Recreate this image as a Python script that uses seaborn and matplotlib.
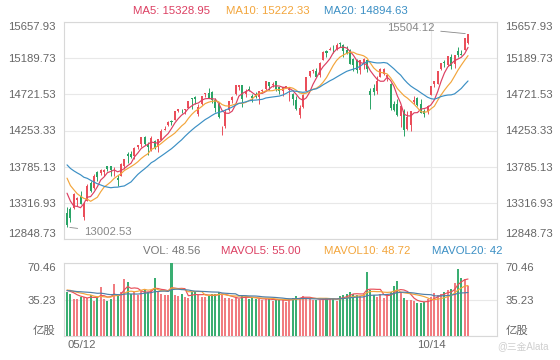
import numpy as np
import pandas as pd
import matplotlib
matplotlib.use("Agg")
import matplotlib.pyplot as plt
import seaborn as sns

# trading days 2021-05-12 .. 2021-10-29 (US holidays removed)
holidays = ["2021-05-31", "2021-07-05", "2021-09-06"]
days = pd.bdate_range("2021-05-12", "2021-10-29")
days = days[~days.isin(pd.to_datetime(holidays))]

# closes of the 19 sessions before the first candle (needed for the moving averages)
prior_close = [14038.76, 14052.34, 13914.77, 13786.27, 13950.22, 13818.41, 13962.68,
               14138.78, 14090.22, 14051.03, 14082.55, 13962.68, 13895.12, 13633.50,
               13582.42, 13632.84, 13752.24, 13401.86, 13389.43]
prior_vol = [44, 42, 45, 40, 43, 41, 44, 42, 46, 45, 44, 47, 43, 45, 44, 46, 43, 45, 44]

opens = [13185, 13235, 13250, 13360, 13400, 13130, 13345, 13570, 13505, 13710,
         13700, 13710, 13792, 13790, 13750, 13640, 13670, 13790, 13950, 13950,
         13920, 14035, 14075, 14175, 14085, 14000, 14120, 14045, 14135, 14260,
         14320, 14375, 14390, 14510, 14510, 14520, 14545, 14670, 14690, 14470,
         14600, 14720, 14740, 14750, 14650, 14600, 14270, 14310, 14520, 14650,
         14730, 14810, 14840, 14720, 14790, 14700, 14730, 14690, 14760, 14790,
         14880, 14840, 14890, 14810, 14760, 14820, 14780, 14730, 14650, 14450,
         14560, 14760, 14960, 15020, 15030, 14970, 15170, 15280, 15290, 15340,
         15310, 15380, 15360, 15290, 15300, 15180, 15170, 15040, 15120, 15160,
         14760, 14800, 14760, 14950, 14990, 14950, 14850, 14590, 14600, 14440,
         14510, 14270, 14330, 14620, 14680, 14590, 14510, 14510, 14710, 14850,
         14850, 15050, 15140, 15100, 15210, 15110, 15280, 15250, 15300, 15380]
highs = [13259, 13260, 13449, 13396, 13465, 13325, 13560, 13600, 13690, 13730,
         13750, 13760, 13800, 13800, 13775, 13680, 13830, 13885, 13970, 13990,
         14035, 14070, 14175, 14180, 14110, 14180, 14130, 14145, 14270, 14315,
         14375, 14385, 14505, 14536, 14530, 14530, 14640, 14680, 14695, 14590,
         14705, 14735, 14800, 14760, 14670, 14620, 14310, 14530, 14640, 14700,
         14840, 14845, 14845, 14790, 14830, 14720, 14750, 14770, 14790, 14900,
         14880, 14880, 14900, 14810, 14820, 14830, 14800, 14740, 14700, 14580,
         14720, 14950, 15025, 15050, 15060, 15140, 15280, 15290, 15340, 15360,
         15380, 15403, 15370, 15350, 15310, 15190, 15180, 15170, 15190, 15170,
         14800, 14850, 14960, 15060, 15060, 14990, 14870, 14640, 14660, 14570,
         14530, 14510, 14510, 14700, 14690, 14660, 14530, 14580, 14830, 14900,
         15030, 15130, 15160, 15220, 15240, 15230, 15330, 15290, 15450, 15504.12]
lows = [13002.53, 13070, 13235, 13270, 13297, 13090, 13340, 13460, 13500, 13600,
        13680, 13670, 13730, 13660, 13670, 13540, 13665, 13760, 13830, 13900,
        13890, 14010, 14040, 14060, 13940, 13990, 14020, 13970, 14130, 14260,
        14310, 14330, 14385, 14490, 14480, 14470, 14545, 14530, 14600, 14440,
        14580, 14690, 14670, 14610, 14490, 14420, 14195, 14280, 14500, 14610,
        14710, 14780, 14560, 14690, 14760, 14620, 14670, 14600, 14750, 14780,
        14780, 14820, 14760, 14720, 14700, 14800, 14640, 14580, 14520, 14420,
        14550, 14760, 14950, 14995, 14940, 14950, 15160, 15200, 15290, 15260,
        15300, 15340, 15200, 15245, 15110, 15020, 15000, 14990, 15050, 15010,
        14530, 14710, 14720, 14940, 14970, 14890, 14520, 14500, 14440, 14300,
        14180, 14260, 14250, 14600, 14570, 14480, 14430, 14470, 14710, 14820,
        14850, 15040, 15080, 15090, 15050, 15060, 15200, 15230, 15290, 15370]
closes = [13031.68, 13124.99, 13429.98, 13379.05, 13303.64, 13299.74, 13535.74, 13470.99, 13661.17, 13657.17,
          13738.00, 13736.28, 13748.74, 13736.48, 13756.33, 13614.51, 13814.49, 13881.72, 13924.98, 13911.75,
          14020.33, 14069.42, 14174.14, 14072.86, 14039.68, 14161.35, 14030.38, 14141.48, 14253.27, 14271.73,
          14369.71, 14360.39, 14500.51, 14528.33, 14503.95, 14522.38, 14639.33, 14663.64, 14665.06, 14559.79,
          14701.92, 14733.24, 14677.65, 14644.95, 14543.13, 14427.24, 14274.98, 14498.88, 14631.95, 14684.60,
          14836.99, 14840.71, 14660.58, 14762.58, 14778.26, 14672.68, 14681.07, 14761.29, 14780.53, 14895.12,
          14835.76, 14860.18, 14788.09, 14765.14, 14816.26, 14822.90, 14793.76, 14656.18, 14525.91, 14541.79,
          14714.66, 14942.65, 15019.80, 15041.86, 14945.81, 15129.50, 15265.89, 15259.24, 15309.38, 15331.18,
          15363.52, 15374.33, 15286.64, 15248.25, 15115.49, 15105.58, 15037.76, 15161.53, 15181.92, 15043.97,
          14713.90, 14746.40, 14896.85, 15052.24, 15047.70, 14969.97, 14546.68, 14512.44, 14448.58, 14566.70,
          14255.49, 14433.83, 14501.91, 14654.02, 14579.54, 14486.20, 14465.92, 14571.64, 14823.43, 14897.34,
          15021.81, 15129.09, 15121.68, 15215.70, 15090.20, 15226.71, 15235.84, 15235.71, 15448.12, 15498.39]
# volume in 亿股
volumes = [42.5, 41.0, 36.0, 35.5, 37.5, 38.0, 36.5, 40.0, 34.0, 37.5,
           47.0, 36.0, 33.5, 36.0, 50.0, 40.0, 42.0, 55.0, 52.0, 41.0,
           42.0, 40.0, 43.5, 45.0, 42.0, 44.0, 56.0, 42.0, 41.0, 40.0,
           39.5, 70.46, 40.0, 39.0, 41.0, 38.0, 36.5, 42.0, 43.0, 40.0,
           38.0, 37.5, 39.0, 41.0, 40.5, 42.0, 40.0, 37.0, 36.5, 36.0,
           37.0, 36.0, 40.0, 37.5, 36.0, 37.0, 35.5, 36.0, 35.0, 36.0,
           35.5, 34.0, 35.0, 34.5, 35.5, 33.0, 36.0, 37.0, 38.5, 37.0,
           38.5, 36.0, 37.0, 35.0, 34.5, 35.0, 35.5, 37.0, 36.0, 35.5,
           34.0, 39.0, 40.0, 41.0, 42.0, 41.0, 40.0, 39.0, 41.0, 62.0,
           44.0, 40.0, 38.0, 41.0, 37.0, 39.0, 42.0, 48.0, 53.0, 42.0,
           37.0, 35.0, 34.5, 34.0, 31.5, 32.0, 33.0, 36.0, 38.0, 41.8,
           40.0, 41.0, 42.0, 44.2, 45.0, 51.56, 64.6, 55.5, 54.78, 48.56]

price_ticks = [12848.73, 13316.93, 13785.13, 14253.33, 14721.53, 15189.73, 15657.93]
vol_ticks = [0, 35.23, 70.46]
vol_tick_labels = ["亿股", "35.23", "70.46"]
date_ticks = ["2021-05-12", "2021-10-14"]

df = pd.DataFrame({"open": opens, "high": highs, "low": lows, "close": closes,
                   "vol": volumes}, index=days)
df["x"] = np.arange(len(df))
all_close = pd.Series(prior_close + closes)
all_vol = pd.Series(prior_vol + volumes)
n0 = len(prior_close)
for n in (5, 10, 20):
    df[f"ma{n}"] = all_close.rolling(n).mean().values[n0:]
    df[f"mavol{n}"] = all_vol.rolling(n).mean().values[n0:]

sns.set_theme(style="white")
plt.rcParams["font.family"] = ["Liberation Sans", "Noto Sans CJK SC", "DejaVu Sans"]

UP, DOWN = "#ea4e5a", "#2aa466"
VUP, VDOWN = "#f17c80", "#3aae72"
C5, C10, C20 = "#dc3f62", "#f3a53b", "#3b8fc4"
GRID = "#e8e8e8"
TXT = "#666666"
FS = 8.2

fig = plt.figure(figsize=(5.6, 3.6), dpi=100)
ax = fig.add_axes([64 / 560, 1 - 239 / 360, 433 / 560, 217 / 360])
axv = fig.add_axes([64 / 560, 1 - 336 / 360, 433 / 560, 73 / 360])

up = df["close"] >= df["open"]
col = np.where(up, UP, DOWN)
vcol = np.where(up, VUP, VDOWN)

# candles
ax.vlines(df["x"], df["low"], df["high"], colors=col, lw=0.7, zorder=3)
body = (df["close"] - df["open"]).abs().clip(lower=8)
ax.bar(df["x"], body, bottom=df[["open", "close"]].min(axis=1), width=0.6,
       color=col, linewidth=0, zorder=4)
for n, c in ((5, C5), (10, C10), (20, C20)):
    sns.lineplot(x=df["x"].values, y=df[f"ma{n}"].values, ax=ax, color=c, lw=0.85, zorder=5)

# volume
axv.bar(df["x"], df["vol"], width=0.6, color=vcol, linewidth=0, zorder=3)
for n, c in ((5, "#e8505a"), (10, "#f3a53b"), (20, "#4f7fa8")):
    sns.lineplot(x=df["x"].values, y=df[f"mavol{n}"].values, ax=axv, color=c, lw=0.85, zorder=5)

xt = [df.index.get_loc(pd.Timestamp(d)) for d in date_ticks]
for a in (ax, axv):
    a.set_xlim(-0.9, 127.6)
    for s in a.spines.values():
        s.set_color("#d8d8d8")
        s.set_linewidth(0.8)
    a.axvline(xt[1], color=GRID, lw=0.8, zorder=0)
    a.set_xlabel("")
    a.set_ylabel("")

ax.set_ylim(price_ticks[0], price_ticks[-1])
ax.set_yticks(price_ticks)
ax.set_yticklabels([f"{v:.2f}" for v in price_ticks])
ax.set_xticks([])
ax.grid(axis="y", color=GRID, lw=0.8)
ax.tick_params(axis="y", length=0, labelsize=FS, labelcolor=TXT, pad=6,
               labelright=True, right=False)
for lab in ax.get_yticklabels():
    t = lab.get_text()
    if t == f"{price_ticks[-1]:.2f}":
        lab.set_va("top")
    elif t == f"{price_ticks[0]:.2f}":
        lab.set_va("bottom")

axv.set_ylim(0, vol_ticks[-1])
axv.set_yticks(vol_ticks)
axv.set_yticklabels(vol_tick_labels)
axv.grid(axis="y", color=GRID, lw=0.8)
axv.tick_params(axis="y", length=0, labelsize=FS, labelcolor=TXT, pad=6,
                labelright=True)
for lab in axv.get_yticklabels():
    t = lab.get_text()
    if t == vol_tick_labels[-1]:
        lab.set_va("top")
    elif t == vol_tick_labels[0]:
        lab.set_va("bottom")

axv.set_xticks(xt)
axv.set_xticklabels([pd.Timestamp(d).strftime("%m/%d") for d in date_ticks])
axv.tick_params(axis="x", length=0, labelsize=FS, labelcolor=TXT, pad=3)
axv.get_xticklabels()[0].set_ha("left")
axv.get_xticklabels()[0].set_x(-0.9)

# max / min markers
imax = int(np.argmax(highs))
imin = int(np.argmin(lows))
ax.annotate(f"{highs[imax]:.2f}", xy=(imax, highs[imax]), xytext=(-24, 4),
            textcoords="offset points", ha="right", va="center", fontsize=FS,
            color="#888888", arrowprops=dict(arrowstyle="-", color="#888888", lw=0.6))
ax.annotate(f"{lows[imin]:.2f}", xy=(imin, lows[imin]), xytext=(12, -3.5),
            textcoords="offset points", ha="left", va="center", fontsize=FS,
            color="#888888", arrowprops=dict(arrowstyle="-", color="#888888", lw=0.6))

last = df.iloc[-1]
def header(y, parts):
    for x, text, c in parts:
        fig.text(x / 560, 1 - y / 360, text, color=c, fontsize=FS, va="center", ha="left")

header(11, [(133, f"MA5: {last['ma5']:.2f}", C5),
            (226, f"MA10: {last['ma10']:.2f}", C10),
            (324, f"MA20: {last['ma20']:.2f}", C20)])
header(251, [(143, f"VOL: {last['vol']:.2f}", "#777777"),
             (221, f"MAVOL5: {last['mavol5']:.2f}", C5),
             (324, f"MAVOL10: {last['mavol10']:.2f}", C10),
             (432, f"MAVOL20: {last['mavol20']:.0f}", C20)])

fig.text(497 / 560, 1 - 346 / 360, "@三金Alata", color="#cfcfcf", fontsize=7, va="center")

fig.savefig("out.png", dpi=100)
